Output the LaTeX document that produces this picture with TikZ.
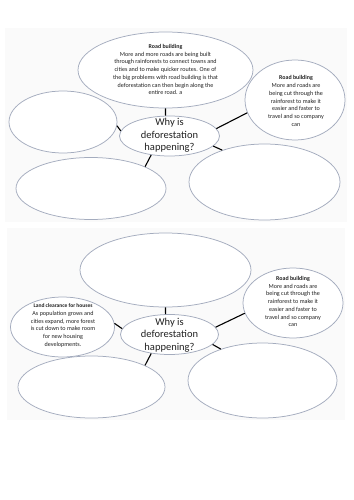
\documentclass[tikz,border=0pt]{standalone}
\usepackage{fontspec}
\setmainfont{Carlito}
\usetikzlibrary{shapes.geometric}
\definecolor{rim}{HTML}{A4ACBE}
\definecolor{ink}{HTML}{222222}
\definecolor{panel}{HTML}{FAFAFA}
\tikzset{
  bubble/.style={ellipse, draw=rim, line width=0.75pt, fill=white, inner sep=0pt},
  small/.style={inner sep=0pt, align=center, text=ink, font=\fontsize{6.1}{7.75}\selectfont},
  big/.style={inner sep=0pt, align=center, text=ink, font=\fontsize{10.5}{12.5}\selectfont},
  link/.style={draw=black, line width=1.1pt},
  panelbox/.style={fill=panel, draw=none}
}
\begin{document}
\begin{tikzpicture}[x=1pt,y=-1pt]
\useasboundingbox (0,0) rectangle (353,500);
\fill[white] (0,0) rectangle (353,500);
\path[panelbox] (5,28) rectangle (347,222);
\path[panelbox] (7,228) rectangle (345,420);

% ---------- top panel ----------
\node[bubble, minimum width=175pt, minimum height=76pt] (T1) at (165.5,70) {};
\node[bubble, minimum width=100pt, minimum height=80pt] (R1) at (295,100) {};
\node[bubble, minimum width=108pt, minimum height=62pt] (L1) at (63,122) {};
\node[bubble, minimum width=100pt, minimum height=40pt] (C1) at (169.5,136) {};
\node[bubble, minimum width=150pt, minimum height=62pt] (BL1) at (91,188.5) {};
\node[bubble, minimum width=151pt, minimum height=76pt] (BR1) at (264.5,182) {};

\node[small] (T1txt) at (165.5,69.5) {{\fontsize{5.9}{7.75}\selectfont\textbf{Road building}}\\More and more roads are being built\\through rainforests to connect towns and\\cities and to make quicker routes. One of\\the big problems with road building is that\\deforestation can then begin along the\\entire road. a};
\node[small] (R1txt) at (296,101) {{\fontsize{5.9}{7.75}\selectfont\textbf{Road building}}\\More and roads are\\being cut through the\\rainforest to make it\\easier and faster to\\travel and so company\\can};
\node[big] (C1txt) at (169.5,135.5) {Why is\\deforestation\\happening?};

\draw[link] (C1.101) -- (T1.270);
\draw[link] (C1.9) -- (R1.195);
\draw[link] (C1.174) -- (L1.356);
\draw[link] (C1.226) -- (BL1.22);
\draw[link] (C1.347) -- (BR1.143);

% ---------- bottom panel ----------
\node[bubble, minimum width=171pt, minimum height=74pt] (T2) at (165.5,270) {};
\node[bubble, minimum width=100pt, minimum height=70pt] (R2) at (293,303) {};
\node[bubble, minimum width=104pt, minimum height=60pt] (L2) at (62.5,327) {};
\node[bubble, minimum width=98pt, minimum height=40pt] (C2) at (169.5,334.5) {};
\node[bubble, minimum width=147pt, minimum height=62pt] (BL2) at (91.5,387) {};
\node[bubble, minimum width=149pt, minimum height=75pt] (BR2) at (262.5,380.5) {};

\node[small] (R2txt) at (293,301.5) {{\fontsize{5.9}{7.75}\selectfont\textbf{Road building}}\\More and roads are\\being cut through the\\rainforest to make it\\easier and faster to\\travel and so company\\can};
\node[small] (L2txt) at (63,325.5) {{\fontsize{5.5}{7.75}\selectfont\textbf{Land clearance for houses}}\\As population grows and\\cities expand, more forest\\is cut down to make room\\for new housing\\developments.};
\node[big] (C2txt) at (169.5,335) {Why is\\deforestation\\happening?};

\draw[link] (C2.101) -- (T2.270);
\draw[link] (C2.9) -- (R2.192);
\draw[link] (C2.173) -- (L2.4);
\draw[link] (C2.226) -- (BL2.22);
\draw[link] (C2.347) -- (BR2.143);
\end{tikzpicture}
\end{document}
